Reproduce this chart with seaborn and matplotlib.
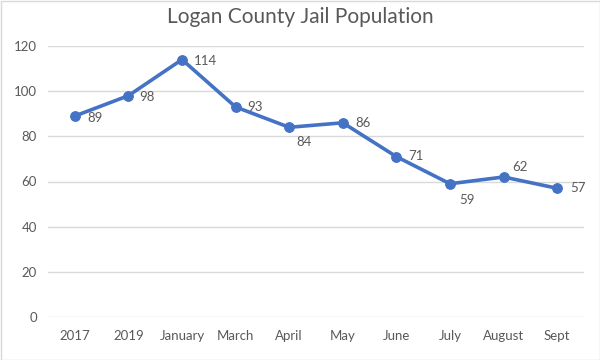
import matplotlib
matplotlib.use("Agg")
import matplotlib.pyplot as plt
import seaborn as sns
import pandas as pd

# datos
periodos = ["2017", "2019", "January", "March", "April", "May", "June", "July", "August", "Sept"]
poblacion = [89, 98, 114, 93, 84, 86, 71, 59, 62, 57]

# desplazamiento de cada etiqueta (pixeles)
dx = [20, 19, 23, 19, 15, 20, 20, 17, 16, 21]
dy = [-2, -1, -1, 0, -15, 0, 1, -16, 10, 0]

df = pd.DataFrame({"Periodo": periodos, "Poblacion": poblacion})
df["pos"] = range(len(df))

sns.set_style("white")
plt.rcParams['font.family'] = ['Lato', 'DejaVu Sans']

fig = plt.figure(figsize=(6, 3.6), dpi=100)
ax = fig.add_axes([48/600, 1-317/360, (584-48)/600, (317-46)/360])

azul = "#4472C4"
gris = "#595959"

sns.lineplot(data=df, x="pos", y="Poblacion", ax=ax, color=azul, linewidth=2.6,
             marker="o", markersize=7, markeredgecolor=azul, zorder=3)

for i, v in enumerate(poblacion):
    ax.annotate(str(v), (i, v), xytext=(dx[i], dy[i]), textcoords="offset pixels",
                ha="center", va="center", fontsize=9.5, color=gris)

ax.set_xlim(-0.5, len(periodos) - 0.5)
ax.set_ylim(0, 120)
ax.set_yticks(range(0, 121, 20))
ax.set_xticks(range(len(periodos)))
ax.set_xticklabels(periodos)
ax.grid(axis="y", color="#D9D9D9", linewidth=1)
ax.set_axisbelow(True)
for s in ax.spines.values():
    s.set_visible(False)
ax.tick_params(axis="both", length=0, labelsize=9.5, labelcolor=gris)
ax.tick_params(axis="x", pad=16.5)
ax.tick_params(axis="y", pad=8)
for lab in ax.get_xticklabels():
    lab.set_va("baseline")
ax.set_xlabel("")
ax.set_ylabel("")

fig.text(0.5, 1-17/360, "Logan County Jail Population", ha="center", va="center",
         fontsize=15, color=gris)

fig.patches.append(plt.Rectangle((0.5/600, 0.5/360), 599/600, 359/360, transform=fig.transFigure,
                                 fill=False, edgecolor="#D9D9D9", linewidth=1))

fig.savefig("out.png", dpi=100)
